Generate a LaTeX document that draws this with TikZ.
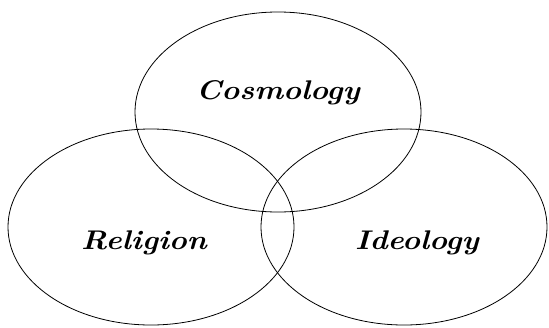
\documentclass[tikz,border=0pt]{standalone}
\begin{document}
\begin{tikzpicture}[x=1pt, y=-1pt, line width=0.8pt]
        \useasboundingbox (0,0) rectangle (549,327);
        \tikzset{lbl/.style={font=\fontsize{27}{32}\selectfont\bfseries\itshape, xscale=1.13}}
        % Ellipses
        \draw (278,112) ellipse [x radius=143, y radius=100];
        \draw (151,227) ellipse [x radius=143, y radius=98];
        \draw (404,227) ellipse [x radius=143, y radius=98];
        
        % Labels
        \node[lbl] (cosmo) at (278,93) {Cosmology};
        \node[lbl] (relig) at (144,243) {Religion};
        \node[lbl] (ideol) at (417,243) {Ideology};
    \end{tikzpicture}
\end{document}
